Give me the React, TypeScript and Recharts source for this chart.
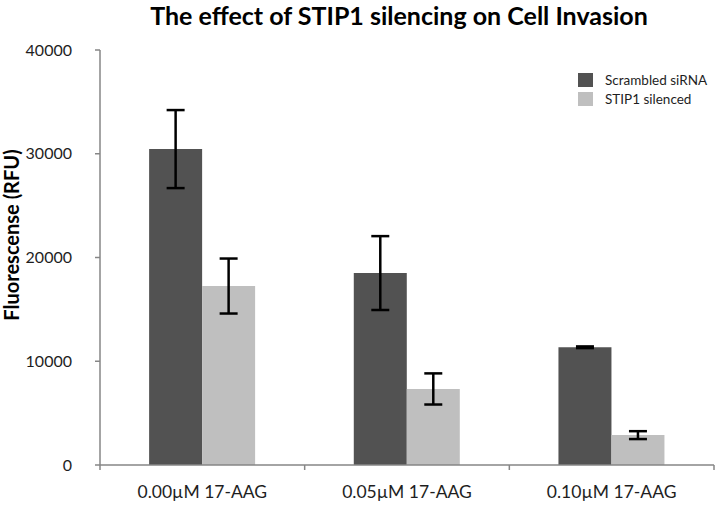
import { BarChart, Bar, XAxis, YAxis, ErrorBar } from 'recharts';

const categories = ['0.00µM 17-AAG', '0.05µM 17-AAG', '0.10µM 17-AAG'];
const seriesNames = ['Scrambled siRNA', 'STIP1 silenced'];
const scrambled = [30450, 18500, 11350];
const scrambledErr = [3760, 3560, 80];
const silenced = [17250, 7330, 2880];
const silencedErr = [2650, 1500, 380];
const yTicks = [0, 10000, 20000, 30000, 40000];

const data = categories.map((name, i) => ({
  name,
  scrambled: scrambled[i],
  scrambledErr: scrambledErr[i],
  silenced: silenced[i],
  silencedErr: silencedErr[i],
}));

const FONT = 'Lato, "Open Sans", sans-serif';
const DARK = '#525252';
const LIGHT = '#bfbfbf';
const AXIS = '#868686';

// category ticks drawn at the band edges, like the original
function XTick(props: any) {
  const { x, y, payload, index, visibleTicksCount } = props;
  const off = payload && payload.offset ? payload.offset : 0;
  const axisY = y - 21;
  return (
    <g>
      <line x1={x - off} x2={x - off} y1={axisY} y2={axisY + 5} stroke={AXIS} strokeWidth={1.5} />
      {index === visibleTicksCount - 1 && (
        <line x1={x + off} x2={x + off} y1={axisY} y2={axisY + 5} stroke={AXIS} strokeWidth={1.5} />
      )}
      <text x={x} y={y} dy="0.71em" textAnchor="middle" fill="#1e1e1e" fontSize={17.5} fontFamily={FONT}>
        {payload.value}
      </text>
    </g>
  );
}

export default function App() {
  return (
    <div style={{ position: 'absolute', left: 0, top: 0, width: 719, height: 507, background: '#fff', fontFamily: FONT }}>
      <div style={{ position: 'absolute', left: 0, width: 798, top: 0, textAlign: 'center', fontSize: 25, fontWeight: 700, color: '#000' }}>
        The effect of STIP1 silencing on Cell Invasion
      </div>
      <div
        style={{
          position: 'absolute', left: 11, top: 235, transform: 'translate(-50%, -50%) rotate(-90deg)',
          whiteSpace: 'nowrap', fontSize: 20, fontWeight: 700, color: '#000',
        }}
      >
        Fluorescense (RFU)
      </div>
      <BarChart
        width={719}
        height={507}
        data={data}
        margin={{ top: 50, right: 5, bottom: 0, left: 0 }}
        barCategoryGap="24%"
        barGap={0}
      >
        <XAxis
          dataKey="name"
          height={42}
          tickSize={0}
          tickMargin={21}
          axisLine={{ stroke: AXIS, strokeWidth: 1.5 }}
          tickLine={false}
          tick={<XTick />}
          interval={0}
        />
        <YAxis
          width={100}
          domain={[0, 40000]}
          ticks={yTicks}
          tickSize={5}
          tickMargin={23}
          axisLine={{ stroke: AXIS, strokeWidth: 1.5 }}
          tickLine={{ stroke: AXIS, strokeWidth: 1.5 }}
          tick={{ fill: '#1e1e1e', fontSize: 16, fontFamily: FONT }}
        />
        <Bar dataKey="scrambled" name={seriesNames[0]} fill={DARK} isAnimationActive={false}>
          <ErrorBar dataKey="scrambledErr" width={9} stroke="#000" strokeWidth={2.5} />
        </Bar>
        <Bar dataKey="silenced" name={seriesNames[1]} fill={LIGHT} isAnimationActive={false}>
          <ErrorBar dataKey="silencedErr" width={9} stroke="#000" strokeWidth={2.5} />
        </Bar>
      </BarChart>
      <div style={{ position: 'absolute', left: 578, top: 70, fontSize: 13.5, color: '#1e1e1e' }}>
        {seriesNames.map((n, i) => (
          <div key={n} style={{ display: 'flex', alignItems: 'center', height: 19 }}>
            <span style={{ display: 'inline-block', width: 15, height: 14, background: i === 0 ? DARK : LIGHT, marginRight: 12 }} />
            {n}
          </div>
        ))}
      </div>
    </div>
  );
}
